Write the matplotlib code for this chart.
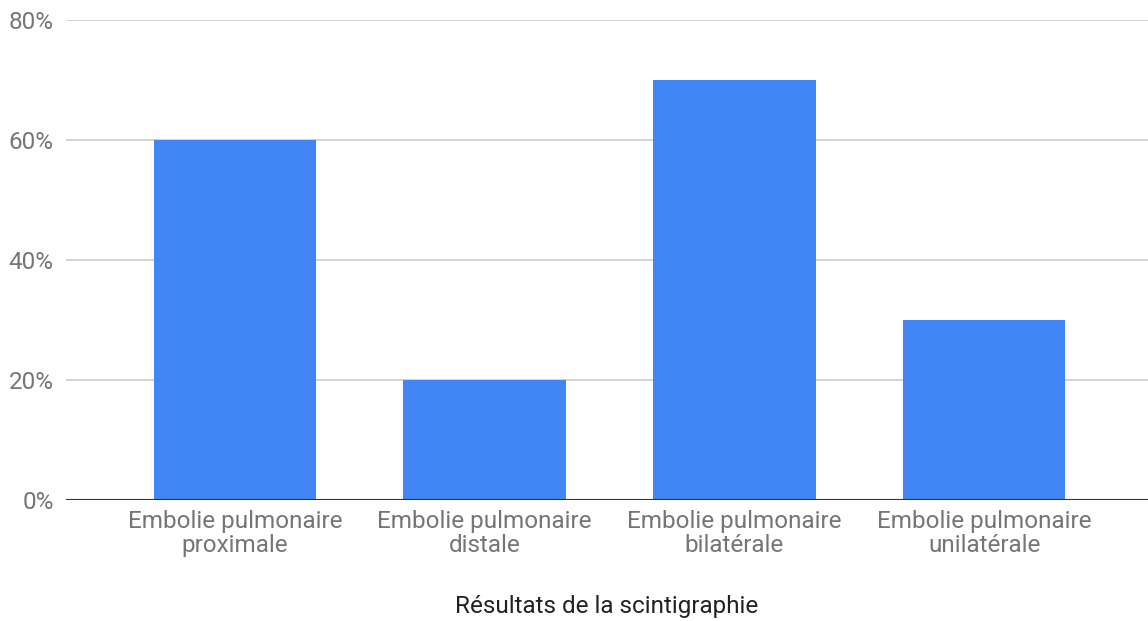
import matplotlib.pyplot as plt
from matplotlib.ticker import FuncFormatter

categories = [
    "Embolie pulmonaire\nproximale",
    "Embolie pulmonaire\ndistale",
    "Embolie pulmonaire\nbilatérale",
    "Embolie pulmonaire\nunilatérale",
]
values = [60, 20, 70, 30]
y_ticks = [0, 20, 40, 60, 80]
x_title = "Résultats de la scintigraphie"

plt.rcParams['font.family'] = ['Roboto', 'DejaVu Sans']

fig = plt.figure(figsize=(11.48, 6.21), dpi=100)
ax = fig.add_axes([66 / 1148, 121 / 621, 1 - 66 / 1148, 480 / 621])

x = range(len(categories))
ax.bar(x, values, width=0.65, color='#4285F4', zorder=3)

ax.set_xlim(-0.676, 3.656)
ax.set_ylim(0, 80)
ax.set_yticks(y_ticks)
ax.yaxis.set_major_formatter(FuncFormatter(lambda v, _: f"{v:.0f}%"))
ax.grid(axis='y', color='#cccccc', linewidth=1.2, zorder=0)
ax.axhline(0, color='#333333', linewidth=1.5, zorder=4)

for side in ['top', 'right', 'left', 'bottom']:
    ax.spines[side].set_visible(False)

ax.set_xticks(list(x))
ax.set_xticklabels(categories, fontsize=17.5, color='#757575', linespacing=1.08)
ax.tick_params(axis='x', length=0, pad=7)
ax.tick_params(axis='y', length=0, pad=9, labelsize=17.5, labelcolor='#757575')

ax.set_xlabel(x_title, fontsize=17.5, color='#222222', labelpad=27)

fig.savefig('out.png', dpi=100)
